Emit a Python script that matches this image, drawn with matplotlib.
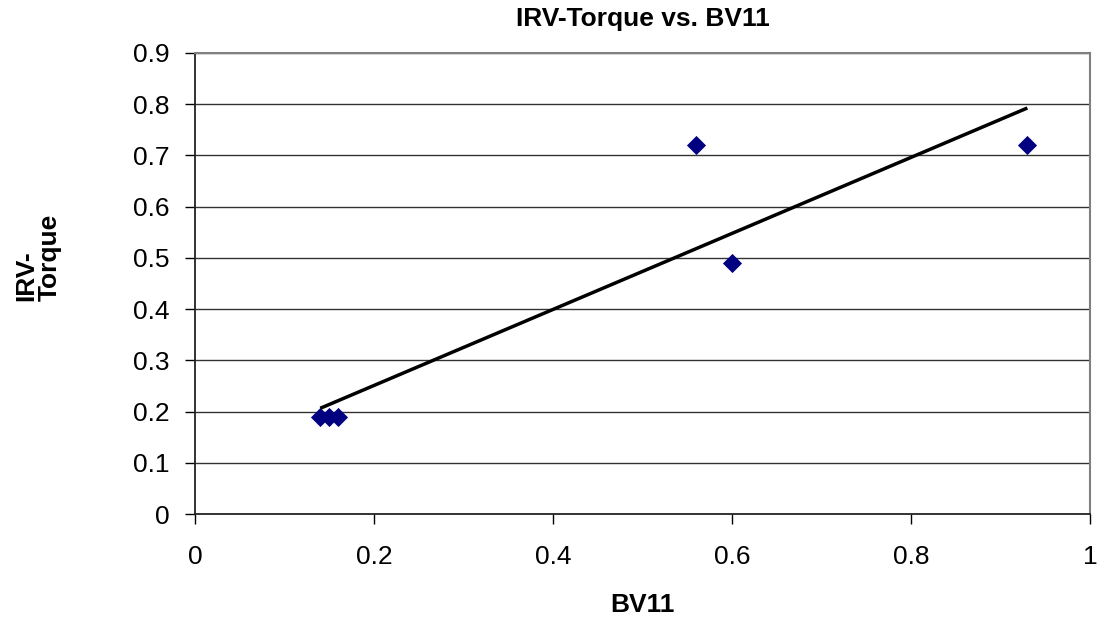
import numpy as np
import matplotlib
matplotlib.use("Agg")
import matplotlib.pyplot as plt

plt.rcParams['font.family'] = ['Liberation Sans', 'DejaVu Sans']

bv11 = [0.14, 0.15, 0.16, 0.56, 0.60, 0.93]
irv_torque = [0.19, 0.19, 0.19, 0.72, 0.49, 0.72]
x_ticks = [0, 0.2, 0.4, 0.6, 0.8, 1]
x_tick_labels = ["0", "0.2", "0.4", "0.6", "0.8", "1"]
y_ticks = [0, 0.1, 0.2, 0.3, 0.4, 0.5, 0.6, 0.7, 0.8, 0.9]
y_tick_labels = ["0", "0.1", "0.2", "0.3", "0.4", "0.5", "0.6", "0.7", "0.8", "0.9"]

W, H = 1099, 626
fig = plt.figure(figsize=(W / 100, H / 100), dpi=100)
L, R, T, B = 195, 1090, 53, 514
ax = fig.add_axes([L / W, 1 - B / H, (R - L) / W, (B - T) / H])

ax.set_xlim(0, 1)
ax.set_ylim(0, 0.9)
ax.set_yticks(y_ticks)
ax.set_yticklabels(y_tick_labels)
ax.set_xticks(x_ticks)
ax.set_xticklabels(x_tick_labels)

for y in y_ticks[1:]:
    ax.axhline(y, color='#333333', lw=1.0, zorder=1)

ax.scatter(bv11, irv_torque, marker='D', s=95, color='#000080', zorder=3, linewidths=0)

coef = np.polyfit(bv11, irv_torque, 1)
xs = np.array([min(bv11), max(bv11)])
ax.plot(xs, np.polyval(coef, xs), color='black', lw=2.5, zorder=4, solid_capstyle='butt')

for s in ['top', 'right']:
    ax.spines[s].set_color('#808080')
    ax.spines[s].set_linewidth(1.5)
for s in ['left', 'bottom']:
    ax.spines[s].set_color('#222222')
    ax.spines[s].set_linewidth(1.3)

ax.tick_params(axis='both', direction='out', length=7.2, width=1, labelsize=19, colors='black')
ax.tick_params(axis='x', pad=15)
ax.tick_params(axis='y', pad=11)

fig.text((L + R) / 2 / W, 1 - 19 / H, "IRV-Torque vs. BV11", fontsize=19,
         fontweight='bold', ha='center', va='center')
fig.text((L + R) / 2 / W, 1 - 605 / H, "BV11", fontsize=19, fontweight='bold',
         ha='center', va='center')
fig.text(38 / W, 1 - 257 / H, "IRV-\nTorque", fontsize=19, fontweight='bold',
         ha='center', va='center', rotation=90, multialignment='left', linespacing=0.95)

fig.savefig("out.png", dpi=100)
